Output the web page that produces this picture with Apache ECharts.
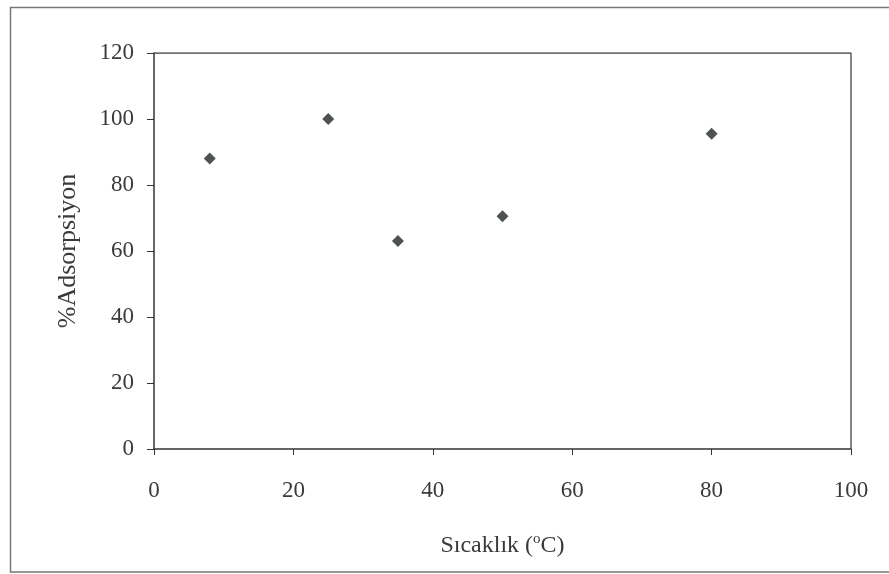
<!DOCTYPE html>
<html><head><meta charset="utf-8">
<script src="https://cdn.jsdelivr.net/npm/echarts@6/dist/echarts.min.js"></script>
<style>html,body{margin:0;padding:0;background:#fff}#c{width:889px;height:574px}</style>
</head><body><div id="c"></div>
<script>
const temperatures = [8, 25, 35, 50, 80];
const adsorption = [88, 100, 63, 70.5, 95.5];
const xTicks = [0, 20, 40, 60, 80, 100];
const yTicks = [0, 20, 40, 60, 80, 100, 120];

const chart = echarts.init(document.getElementById('c'));
const font = '"Liberation Serif", "DejaVu Serif", serif';
const txt = '#3a3a3a';
chart.setOption({
  backgroundColor: '#fff',
  animation: false,
  graphic: [{
    type: 'rect', shape: {x: 10.5, y: 7.5, width: 890, height: 564.5},
    style: {fill: 'none', stroke: '#777', lineWidth: 1.5}, z: -1
  }],
  grid: {left: 154, right: 38, top: 53, bottom: 125},
  xAxis: {
    type: 'value', min: 0, max: 100, interval: 20,
    name: '{a|Sıcaklık (}{s|o}{a|C)}', nameLocation: 'middle', nameGap: 83,
    nameTextStyle: {rich: {
      a: {fontFamily: font, fontSize: 24, color: txt},
      s: {fontFamily: font, fontSize: 15, color: txt, verticalAlign: 'top', padding: [0, 0, 12, 0]}
    }},
    axisLine: {show: true, lineStyle: {color: '#333', width: 1.5}},
    axisTick: {show: true, inside: false, length: 6, lineStyle: {color: '#333'}},
    axisLabel: {fontFamily: font, fontSize: 23, color: txt, margin: 30,
      formatter: v => xTicks.includes(v) ? String(v) : ''},
    splitLine: {show: false}
  },
  yAxis: {
    type: 'value', min: 0, max: 120, interval: 20,
    name: '%Adsorpsiyon', nameLocation: 'middle', nameGap: 73, nameRotate: 90,
    nameTextStyle: {fontFamily: font, fontSize: 26, color: txt},
    axisLine: {show: true, lineStyle: {color: '#333', width: 1.5}},
    axisTick: {show: true, inside: false, length: 7, lineStyle: {color: '#333'}},
    axisLabel: {fontFamily: font, fontSize: 23, color: txt, margin: 20,
      formatter: v => yTicks.includes(v) ? String(v) : ''},
    splitLine: {show: false}
  },
  series: [{
    type: 'scatter', symbol: 'diamond', symbolSize: 12,
    itemStyle: {color: '#222824'},
    data: temperatures.map((t, i) => [t, adsorption[i]])
  }, {
    type: 'line', data: [[0,120],[100,120],[100,0]], symbol: 'none', silent: true,
    lineStyle: {color: '#444', width: 1.3}
  }]
});
</script></body></html>
